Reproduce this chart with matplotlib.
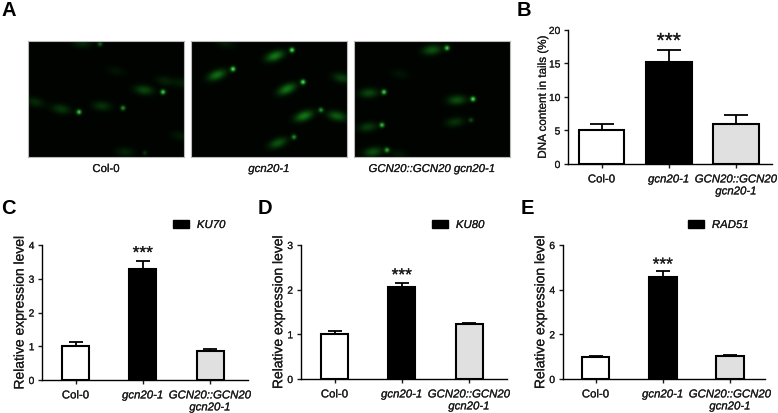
import numpy as np
import matplotlib
matplotlib.use("Agg")
import matplotlib.pyplot as plt
import matplotlib.patheffects as pe
from matplotlib.patches import Patch
from matplotlib.text import Text

plt.rcParams.update({
    "font.family": ["Liberation Sans", "DejaVu Sans"],
    "font.size": 8.2,
    "text.color": "#1a1a1a",
    "axes.labelcolor": "#1a1a1a",
    "xtick.color": "#1a1a1a",
    "ytick.color": "#1a1a1a",
})

W, H = 778, 413
GROUPS = ["Col-0", "gcn20-1", "GCN20::GCN20\ngcn20-1"]
BAR_COLORS = ["white", "black", "#e0e0e0"]

# bar charts: means and upper error bars
dna_mean = [5.1, 15.2, 6.0]
dna_err = [0.8, 1.8, 1.3]
ku70_mean = [1.0, 3.3, 0.85]
ku70_err = [0.12, 0.22, 0.07]
ku80_mean = [1.0, 2.05, 1.23]
ku80_err = [0.07, 0.09, 0.03]
rad51_mean = [1.0, 4.55, 1.03]
rad51_err = [0.05, 0.27, 0.04]

# comet images, in reference pixels: head x, y, brightness, tail x, y, brightness
comets_col0 = [
    (100, 44, .4, 82, 43, .18), (163, 92, .9, 144, 90, .32),
    (79, 112, .9, 61, 109, .24), (123, 108, .6, 102, 106, .22),
    (145, 153, .2, 125, 152, .15),
]
tails_col0 = [(116, 71, .08), (165, 81, .14), (35, 102, .18), (180, 136, .1), (182, 83, .12)]
comets_gcn = [
    (292, 50, 1, 275, 56, .55), (233, 69, 1, 217, 75, .5),
    (303, 82, 1, 287, 89, .55), (321, 110, .6, 304, 116, .55),
    (294, 137, .6, 278, 143, .38),
]
tails_gcn = [(337, 116, .42), (342, 78, .28), (225, 43, .12)]
comets_comp = [
    (447, 48, .9, 432, 50, .38), (384, 92, .9, 369, 93, .32),
    (473, 99, 1, 457, 100, .36), (471, 120, .3, 455, 122, .22),
    (382, 125, .8, 368, 127, .26), (387, 150, .7, 373, 152, .36),
]
tails_comp = [(400, 74, .08), (398, 154, .1)]


def px_axes(fig, left, top, right, bottom):
    return fig.add_axes([left / W, 1 - bottom / H, (right - left) / W, (bottom - top) / H])


def comet_image(ax, box, comets, tails):
    x0, y0, x1, y1 = box
    xx, yy = np.meshgrid(np.arange(x0, x1) + .5, np.arange(y0, y1) + .5)
    g = np.zeros(xx.shape)
    core = np.zeros(xx.shape)

    def tail(tx, ty, b, ang):
        dx, dy = xx - tx, yy - ty
        u = dx * np.cos(ang) + dy * np.sin(ang)
        v = -dx * np.sin(ang) + dy * np.cos(ang)
        return b * np.exp(-(u / 9.0) ** 2 - (v / 4.6) ** 2)

    for hx, hy, hb, tx, ty, tb in comets:
        g += tail(tx, ty, tb, np.arctan2(hy - ty, hx - tx))
        g += hb * np.exp(-((xx - hx) ** 2 + (yy - hy) ** 2) / 6.0)
        core += hb * np.exp(-((xx - hx) ** 2 + (yy - hy) ** 2) / 2.0)
    for tx, ty, tb in tails:
        g += tail(tx, ty, tb, 0.2)

    img = np.zeros(xx.shape + (3,))
    img[..., 1] = np.clip(0.012 + g * 0.8, 0, 1)
    img[..., 0] = np.clip(g * 0.12 + core * 0.2, 0, 1)
    img[..., 2] = np.clip(g * 0.15 + core * 0.25, 0, 1)
    ax.imshow(img, extent=(x0, x1, y1, y0), aspect="auto", interpolation="bilinear")
    ax.set_xticks([])
    ax.set_yticks([])
    for s in ax.spines.values():
        s.set_color("#b8b8b8")
        s.set_linewidth(0.8)


def bar_panel(fig, box, centers, bar_px, mean, err, yticks, ylabel, label_size,
              labelpad, cap, star_size, star_off, legend=None):
    left, top, right, bottom = box
    ax = px_axes(fig, left, top, right, bottom)
    step = (centers[2] - centers[0]) / 2
    x = np.arange(3)
    ax.bar(x, mean, width=bar_px / step, color=BAR_COLORS, edgecolor="black", linewidth=1.5, zorder=3)
    ax.errorbar(x, mean, yerr=[[0, 0, 0], err], fmt="none", ecolor="black",
                elinewidth=1.3, capsize=cap, capthick=1.3, zorder=2)
    ax.set_xlim((left - centers[0]) / step, (right - centers[0]) / step)
    ax.set_ylim(yticks[0], yticks[-1])
    ax.set_yticks(yticks)
    ax.set_xticks(x)
    ax.set_xticklabels(GROUPS, linespacing=1.25)
    ax.get_xticklabels()[1].set_style("italic")
    ax.get_xticklabels()[2].set_style("italic")
    ax.set_ylabel(ylabel, fontsize=label_size, labelpad=labelpad)
    ax.tick_params(length=3, width=1, pad=2.5)
    ax.tick_params(axis="x", pad=4.5)
    ax.tick_params(axis="y", labelsize=7.4)
    for s in ("top", "right"):
        ax.spines[s].set_visible(False)
    for s in ("left", "bottom"):
        ax.spines[s].set_linewidth(1.0)
    ax.annotate("***", (1, mean[1] + err[1]), xytext=(0, star_off), textcoords="offset points",
                ha="center", va="center", fontsize=star_size)
    if legend:
        ax.legend(handles=[Patch(facecolor="black", edgecolor="black", label=legend)],
                  loc="center left", bbox_to_anchor=(legend_x[legend] / W, 1 - 225 / H),
                  bbox_transform=fig.transFigure, frameon=False, borderpad=0, borderaxespad=0,
                  handlelength=1.4, handleheight=0.65, handletextpad=0.7,
                  prop={"style": "italic", "size": 8.2})
    return ax


legend_x = {"KU70": 173, "KU80": 432, "RAD51": 688}

fig = plt.figure(figsize=(W / 100, H / 100), dpi=100)

# panel A
image_boxes = [(28, 41, 184, 157), (191, 41, 347, 157), (354, 41, 510, 157)]
image_comets = [comets_col0, comets_gcn, comets_comp]
image_tails = [tails_col0, tails_gcn, tails_comp]
captions = ["Col-0", "gcn20-1", "GCN20::GCN20 gcn20-1"]
caption_x = [106, 269, 432]
for i, box in enumerate(image_boxes):
    ax = px_axes(fig, box[0], box[1], box[2], box[3])
    comet_image(ax, box, image_comets[i], image_tails[i])
    fig.text(caption_x[i] / W, 1 - 169 / H, captions[i], ha="center", va="center", fontsize=8.2,
             style="normal" if i == 0 else "italic")

# panels B to E
bar_panel(fig, (568, 30, 772, 164), [601.5, 669, 736], 45.5, dna_mean, dna_err,
          [0, 5, 10, 15, 20], "DNA content in tails (%)", 8.4, 0, 8.3, 15, 6)
bar_panel(fig, (42, 245, 248, 380), [75.5, 143, 210], 27, ku70_mean, ku70_err,
          [0, 1, 2, 3, 4], "Relative expression level", 10, 1.5, 5, 12.5, 5.5, "KU70")
bar_panel(fig, (300.7, 245, 507, 379), [334.5, 401.5, 469], 27, ku80_mean, ku80_err,
          [0, 1, 2, 3], "Relative expression level", 10, 1.5, 5, 12.5, 5.5, "KU80")
bar_panel(fig, (562.7, 245, 765, 379), [595.5, 663, 730], 27.5, rad51_mean, rad51_err,
          [0, 2, 4, 6], "Relative expression level", 10, 1.5, 5, 12.5, 4.5, "RAD51")

# panel letters
panel_letters = ["A", "B", "C", "D", "E"]
letter_x = [1, 517, 1, 258, 521]
letter_y = [10, 10, 209, 209, 209]
for s, lx, ly in zip(panel_letters, letter_x, letter_y):
    fig.text(lx / W, 1 - ly / H, s, fontsize=14.5, fontweight="bold", color="black", ha="left", va="center")

# the labels in the reference read a little heavier than the plain weight
for t in fig.findobj(Text):
    if t.get_fontweight() != "bold":
        t.set_path_effects([pe.withStroke(linewidth=0.15, foreground="#1a1a1a")])

fig.savefig("out.png", dpi=100)
